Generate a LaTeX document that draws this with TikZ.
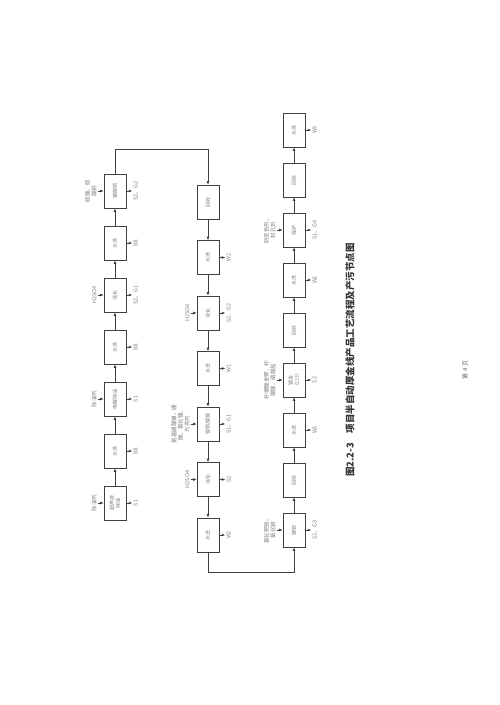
\documentclass[tikz,border=0pt]{standalone}
\usepackage{fontspec}
\setmainfont{Noto Sans CJK SC}
\usepackage{xcolor}
\colorlet{mygray}{black!75}
\colorlet{mylight}{black!50}
\usetikzlibrary{arrows.meta}
\usetikzlibrary{positioning}
\tikzset{
  proc/.style={draw=mygray,line width=0.6pt,minimum width=34pt,minimum height=22pt,inner sep=1pt,align=center,font=\fontsize{5}{6}\selectfont,text=mylight},
  lbl/.style={inner sep=1pt,align=center,font=\fontsize{5.5}{6.5}\selectfont,text=mylight},
  flow/.style={draw=mygray,line width=0.6pt,-{Latex[length=3.5pt,width=2.8pt]}}
}

\begin{document}
\begin{tikzpicture}[x=1pt,y=1pt]
  \useasboundingbox[fill=white] (0,0) rectangle (500,-705);
  \begin{scope}[shift={(500,-705)},rotate=90,transform shape]
    \foreach \u/\t [count=\i] in {202/{超声波\\除油},254/水洗,306/电解除油,358/水洗,410/活化,462/水洗,514/镀酸铜}
      \node[proc] (a\i) at (\u,385) {\t};
    \foreach \u/\t [count=\i] in {503/回收,447.5/水洗,392/活化,336.5/水洗,281/{镀铜/镀镍},225.5/活化,170/水洗}
      \node[proc] (b\i) at (\u,292) {\t};
    \foreach \u/\t [count=\i] in {175/镀钯,225/回收,275/水洗,325/{镀金\\(215)},375/回收,425/水洗,475/保护,525/回收,575/水洗}
      \node[proc] (c\i) at (\u,206) {\t};

    \foreach \i/\j in {1/2,2/3,3/4,4/5,5/6,6/7}{
      \draw[flow] (a\i) -- (a\j);
      \draw[flow] (b\i) -- (b\j);
    }
    \foreach \i/\j in {1/2,2/3,3/4,4/5,5/6,6/7,7/8,8/9}
      \draw[flow] (c\i) -- (c\j);
    \draw[flow] (a7.east) -- ++(24,0) |- (b1.east);
    \draw[flow] (b7.west) -- ++(-20,0) |- (c1.west);

    \foreach \i/\t in {1/除油剂,3/除油剂,5/H2SO4,7/{硫酸、硫\\酸铜}}{
      \node[lbl,above=6pt of a\i] (ia\i) {\t};
      \draw[flow] (ia\i) -- (a\i);
    }
    \foreach \i/\t in {3/H2SO4,5/{氨基磺酸镍、硼\\酸、氯化镍、\\光亮剂},6/H2SO4}{
      \node[lbl,above=6pt of b\i] (ib\i) {\t};
      \draw[flow] (ib\i) -- (b\i);
    }
    \foreach \i/\t in {1/{氯化钯铵、\\氯化铵},4/{柠檬酸金钾、柠\\檬酸、磷酸盐},7/{防变色剂、\\封孔剂}}{
      \node[lbl,above=6pt of c\i] (ic\i) {\t};
      \draw[flow] (ic\i) -- (c\i);
    }

    \foreach \i/\t in {1/S1,2/W1,3/S1,4/W1,5/{S2、G1},6/W1,7/{S2、G2}}{
      \node[lbl,below=6pt of a\i] (sa\i) {\t};
      \draw[flow] (a\i) -- (sa\i);
    }
    \foreach \i/\t in {2/W2,3/{S2、G2},4/W1,5/{S1、G1},6/S2,7/W2}{
      \node[lbl,below=6pt of b\i] (sb\i) {\t};
      \draw[flow] (b\i) -- (sb\i);
    }
    \foreach \i/\t in {1/{S2、G3},3/W2,4/S2,6/W2,7/{S1、G4},9/W3}{
      \node[lbl,below=6pt of c\i] (sc\i) {\t};
      \draw[flow] (c\i) -- (sc\i);
    }

    \node[font=\fontsize{9.5}{11}\selectfont\bfseries,text=black!80] (title) at (345,150) {图2.2-3\quad 项目半自动厚金线产品工艺流程及产污节点图};
    \node[font=\fontsize{6}{7}\selectfont,text=black!60] (page) at (335,35) {第 4 页};
  \end{scope}
\end{tikzpicture}
\end{document}
